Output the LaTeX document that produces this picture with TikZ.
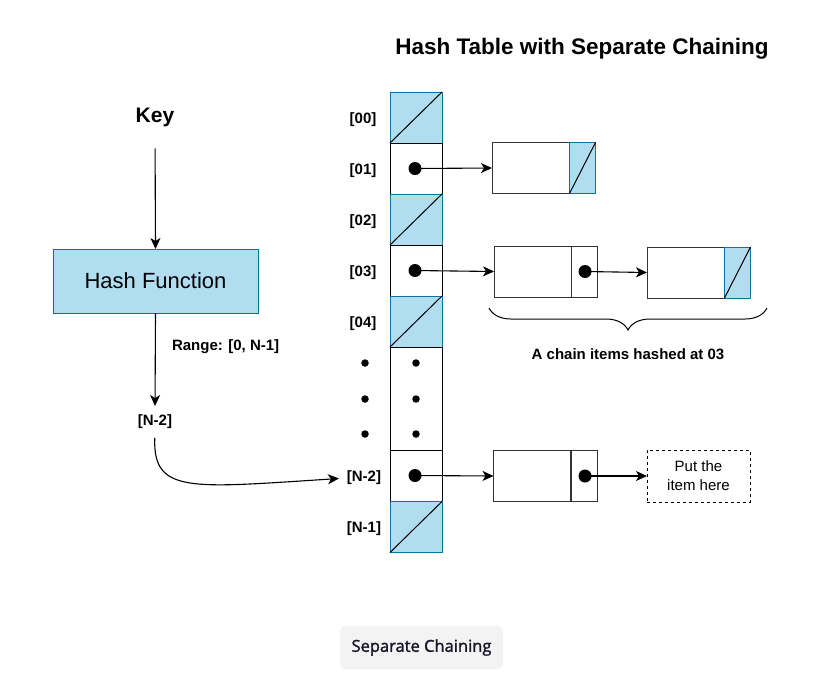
\documentclass[tikz,border=0pt]{standalone}
\usepackage{fontspec}
\setmainfont{Liberation Sans}
\newfontfamily\btnfont{Open Sans}[FakeBold=1.6]
\usetikzlibrary{arrows.meta,decorations.pathreplacing}
\definecolor{bfill}{HTML}{B1DDF0}
\definecolor{bstroke}{HTML}{10739E}
\definecolor{btnbg}{HTML}{F3F3F3}
\definecolor{btntext}{HTML}{16162A}
\tikzset{
  every node/.style={inner sep=0pt, outer sep=0pt},
  lbl/.style={font=\fontsize{15}{18}\selectfont\bfseries},
  arr/.style={line width=1.1pt, -{Stealth[length=11pt,width=10pt,inset=3pt]}},
  bcell/.style={draw=bstroke, fill=bfill, line width=1pt, minimum width=52pt, minimum height=51pt},
  wcell/.style={draw=black, fill=white, line width=1pt, minimum width=52pt, minimum height=51pt},
  databox/.style={draw=black!80, fill=white, line width=1pt, minimum width=77pt, minimum height=51pt},
  ptrbox/.style={draw=black!80, fill=white, line width=1pt, minimum width=26pt, minimum height=51pt},
  tailbox/.style={draw=bstroke, fill=bfill, line width=1pt, minimum width=26pt, minimum height=51pt},
  bigdot/.style={circle, fill=black, minimum size=13pt},
  smalldot/.style={circle, fill=black, minimum size=7.5pt},
}
\begin{document}
\begin{tikzpicture}[x=1pt, y=-1pt]
\useasboundingbox (0,0) rectangle (832,673);

% title
\node[font=\fontsize{22.5}{26}\selectfont\bfseries] (title) at (582,48.5) {Hash Table with Separate Chaining};

% left side
\node[font=\fontsize{21}{25}\selectfont\bfseries] (key) at (155,117) {Key};
\node[draw=bstroke, fill=bfill, line width=1pt, minimum width=205pt, minimum height=64pt,
      font=\fontsize{22}{26}\selectfont] (hash) at (155.5,281) {Hash Function};
\node[lbl, anchor=west] (range) at (172,347) {Range: [0, N-1]};
\node[lbl] (nl) at (155,422) {[N-2]};

% table column
\node[bcell] (c0) at (416,117.5) {};
\node[wcell] (c1) at (416,168.5) {};
\node[bcell] (c2) at (416,219.5) {};
\node[wcell] (c3) at (416,270.5) {};
\node[bcell] (c4) at (416,321.5) {};
\node[wcell, minimum height=103pt] (cd) at (416,398.5) {};
\node[wcell] (cn2) at (416,475.5) {};
\node[bcell] (cn1) at (416,527) {};
\foreach \c in {c0,c2,c4,cn1} \draw[line width=1pt] (\c.south west) -- (\c.north east);

% row labels
\node[lbl] (l0) at (363,120) {[00]};
\node[lbl] (l1) at (363,171) {[01]};
\node[lbl] (l2) at (363,222) {[02]};
\node[lbl] (l3) at (363,273) {[03]};
\node[lbl] (l4) at (363,324) {[04]};
\node[lbl] (ln2) at (364,478) {[N-2]};
\node[lbl] (ln1) at (364,529) {[N-1]};

% vertical dots
\foreach \yy/\n in {363/a,399/b,434/c} {
  \node[smalldot] (dl\n) at (365,\yy) {};
  \node[smalldot] (dr\n) at (416,\yy) {};
}

% pointer dots in cells
\node[bigdot] (p1) at (415,168.5) {};
\node[bigdot] (p3) at (415,270.5) {};
\node[bigdot] (pn2) at (415,475.5) {};

% chain for 01
\node[databox] (a1) at (530.5,168) {};
\node[tailbox] (a1t) at (582.5,168) {};
\draw[line width=1pt] (a1t.south west) -- (a1t.north east);

% chain for 03
\node[databox] (b1) at (532.5,271.5) {};
\node[ptrbox] (b1p) at (584,271.5) {};
\node[bigdot] (b1d) at (585,271.5) {};
\node[databox] (b2) at (685.5,272.5) {};
\node[tailbox] (b2t) at (737.5,272.5) {};
\draw[line width=1pt] (b2t.south west) -- (b2t.north east);

% chain for N-2
\node[databox] (n1) at (532,476) {};
\node[ptrbox] (n1p) at (584,476) {};
\node[bigdot] (n1d) at (585,476) {};
\node[draw=black, dashed, line width=1pt, minimum width=103pt, minimum height=52pt,
      align=center, font=\fontsize{15}{19}\selectfont] (put) at (698.5,476) {Put the\\item here};

% arrows
\draw[arr, shorten <=22pt] (key.south) -- (hash.north);
\draw[arr, shorten >=9pt] (hash.south) -- (nl.north);
\draw[arr, shorten <=9pt, shorten >=8pt] (nl.south) .. controls (153,494) and (190,488) .. (ln2.west);
\draw[arr] (p1.center) -- (a1.west);
\draw[arr] (p3.center) -- (b1.west);
\draw[arr] (b1d.center) -- (b2.west);
\draw[arr] (pn2.center) -- (n1.west);
\draw[arr] (n1d.center) -- (put.west);

% brace
\coordinate (brl) at (489,308);
\coordinate (brr) at (767,308);
\draw[line width=1pt, decorate, decoration={brace, mirror, amplitude=22pt}] (brl) -- (brr);
\node[lbl] (chainlbl) at (628,354) {A chain items hashed at 03};

% button
\node[fill=btnbg, rounded corners=5pt, minimum width=163pt, minimum height=43pt,
      text=btntext, font=\btnfont\fontsize{16.5}{19}\selectfont] (btn) at (421.5,647.5) {Separate Chaining};
\end{tikzpicture}
\end{document}
